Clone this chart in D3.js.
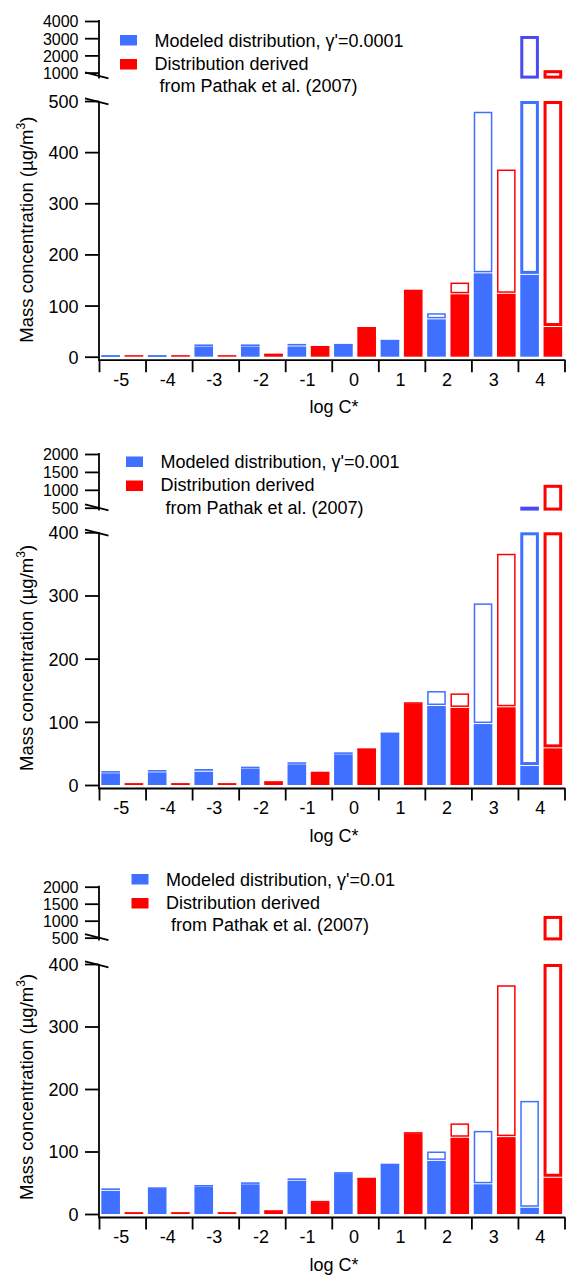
<!DOCTYPE html>
<html>
<head>
<meta charset="utf-8">
<script src="https://cdn.jsdelivr.net/npm/d3@7"></script>
<style>
  html, body { margin: 0; padding: 0; background: #fff; }
  svg { display: block; font-family: "Liberation Sans", Arial, sans-serif; }
</style>
</head>
<body>
<svg id="chart" width="567" height="1276"></svg>
<script>
// Volatility basis set: mass per log C* bin, particle (filled) and total (outline)
const logC = [-5, -4, -3, -2, -1, 0, 1, 2, 3, 4];
const xTickLabels = ["-5", "-4", "-3", "-2", "-1", "0", "1", "2", "3", "4"];

// Distribution derived from Pathak et al. (2007) – same in every panel
const pathakParticle = [3, 3, 3, 5, 19, 57, 129, 122, 123, 58];
const pathakTotal    = [3, 3, 3, 6, 21, 58, 131, 145, 366, 1140];

// Modeled distributions for three values of gamma'
const gammaLabels = ["0.0001", "0.001", "0.01"];
const modeledParticle1 = [2, 2, 20, 20, 20, 24, 32, 73, 163, 160];
const modeledTotal1    = [3, 3, 24, 24, 25, 25, 33, 85, 479, 3130];
const modeledParticle2 = [18.5, 20, 21, 26, 32.7, 48.5, 82, 125, 96.5, 30];
const modeledTotal2    = [22, 23.7, 25.3, 29, 36, 51.7, 83, 148.7, 287.5, 530];
const modeledParticle3 = [37, 41, 43.7, 47.5, 53.3, 65, 79, 85, 47.5, 10];
const modeledTotal3    = [41, 42.7, 46.4, 50.7, 57, 67, 80.5, 100, 133, 181];

// Tick values of the broken y axes
const lowerTicks1 = [0, 100, 200, 300, 400, 500];
const upperTicks1 = [1000, 2000, 3000, 4000];
const lowerTicks23 = [0, 100, 200, 300, 400];
const upperTicks23 = [500, 1000, 1500, 2000];

const legendText = ["Modeled distribution, \u03b3'=", "Distribution derived", " from Pathak et al. (2007)"];
const yTitle = "Mass concentration (\u00b5g/m";

const BLUE = "#4070FF", BLUE_UP = "#4A4AF2", RED = "#FF0000";

// Panel layout (pixel frame of each panel)
const panels = [
  { gamma: gammaLabels[0], particle: modeledParticle1, total: modeledTotal1,
    lowMax: 500, lowTicks: lowerTicks1, zeroY: 356.7, lowTopY: 101,
    upMin: 650, upMax: 4000, upTicks: upperTicks1, upTopY: 21, upBottomY: 78.6,
    legX: 120, legY: 35 },
  { gamma: gammaLabels[1], particle: modeledParticle2, total: modeledTotal2,
    lowMax: 400, lowTicks: lowerTicks23, zeroY: 785, lowTopY: 532.3,
    upMin: 420, upMax: 2000, upTicks: upperTicks23, upTopY: 454, upBottomY: 510.6,
    legX: 126, legY: 456.5 },
  { gamma: gammaLabels[2], particle: modeledParticle3, total: modeledTotal3,
    lowMax: 400, lowTicks: lowerTicks23, zeroY: 1214, lowTopY: 964,
    upMin: 420, upMax: 2000, upTicks: upperTicks23, upTopY: 886.7, upBottomY: 940.4,
    legX: 131.5, legY: 874 }
];

const svg = d3.select("#chart");
const X0 = 99, X1 = 564.5, AXW = 1.8;
const tickFont = 18, upTickFont = 16, legFont = 18, titleFont = 18.5;

panels.forEach(p => {
  const g = svg.append("g");

  const x = d3.scaleBand().domain(logC).range([X0, X1]).paddingInner(0).paddingOuter(0);
  const xs = d3.scaleBand().domain(["model", "pathak"]).range([0, x.bandwidth()])
    .paddingInner(0.2).paddingOuter(0.1);
  const xEdge = d3.scaleLinear().domain([logC[0] - 0.5, logC[logC.length - 1] + 0.5]).range([X0, X1]);
  const yLow = d3.scaleLinear().domain([0, p.lowMax]).range([p.zeroY, p.lowTopY]);
  const yUp = d3.scaleLinear().domain([p.upMin, p.upMax]).range([p.upBottomY, p.upTopY]);
  const axisY = p.zeroY + 3.5;

  const series = [
    { key: "model", particle: p.particle, total: p.total, color: BLUE, upColor: BLUE_UP },
    { key: "pathak", particle: pathakParticle, total: pathakTotal, color: RED, upColor: RED }
  ];

  // bars
  series.forEach(s => {
    const rows = logC.map((c, i) => ({ c, part: s.particle[i], tot: s.total[i] }));
    const bw = xs.bandwidth();

    // filled particle-phase part
    g.append("g").selectAll("rect").data(rows).join("rect")
      .attr("x", d => x(d.c) + xs(s.key))
      .attr("width", bw)
      .attr("y", d => yLow(Math.min(d.part, p.lowMax)))
      .attr("height", d => yLow(0) - yLow(Math.min(d.part, p.lowMax)))
      .attr("fill", s.color);

    // outlined remainder up to the total
    const hollow = rows.filter(d => d.tot - d.part > 0.5);
    g.append("g").selectAll("rect").data(hollow).join("rect")
      .each(function(d) {
        const off = d.tot > p.lowMax;
        const sw = off ? 3 : 1.5;
        const yTop = yLow(Math.min(d.tot, p.lowMax));
        const yBot = yLow(d.part) - 1;
        d3.select(this)
          .attr("x", x(d.c) + xs(s.key) + sw / 2)
          .attr("width", bw - sw)
          .attr("y", yTop + sw / 2)
          .attr("height", Math.max(0.1, yBot - yTop - sw))
          .attr("fill", "none")
          .attr("stroke", s.color)
          .attr("stroke-width", sw);
      });

    // part above the axis break
    const above = rows.filter(d => d.tot > p.lowMax);
    g.append("g").selectAll("rect").data(above).join("rect")
      .attr("x", d => x(d.c) + xs(s.key) + 1.5)
      .attr("width", bw - 3)
      .attr("y", d => yUp(d.tot) + 1.5)
      .attr("height", d => Math.max(0.1, yUp(p.upMin) - yUp(d.tot) - 3))
      .attr("fill", "none")
      .attr("stroke", s.upColor)
      .attr("stroke-width", 3);
  });

  // lower y axis
  const lowAxis = g.append("g").attr("transform", `translate(${X0},0)`)
    .call(d3.axisLeft(yLow).tickValues(p.lowTicks).tickSize(14).tickPadding(6.5).tickFormat(d3.format("d")));
  lowAxis.select(".domain").remove();
  g.append("line").attr("x1", X0).attr("x2", X0).attr("y1", p.lowTopY).attr("y2", axisY)
    .attr("stroke", "#000").attr("stroke-width", AXW);

  // upper y axis
  const upAxis = g.append("g").attr("transform", `translate(${X0},0)`)
    .call(d3.axisLeft(yUp).tickValues(p.upTicks).tickSize(14).tickPadding(6.5).tickFormat(d3.format("d")));
  upAxis.select(".domain").remove();
  g.append("line").attr("x1", X0).attr("x2", X0).attr("y1", p.upTopY - AXW / 2).attr("y2", p.upBottomY)
    .attr("stroke", "#000").attr("stroke-width", AXW);

  [lowAxis, upAxis].forEach(a => {
    a.selectAll(".tick line").attr("stroke", "#000").attr("stroke-width", AXW);
    a.selectAll(".tick text").attr("fill", "#000").attr("font-size", tickFont)
      .attr("font-family", "Liberation Sans, Arial, sans-serif").attr("dy", "0.36em");
  });
  upAxis.selectAll(".tick text").attr("font-size", upTickFont).attr("dy", "0.37em");

  // break marks
  g.append("line").attr("x1", 85).attr("y1", p.upBottomY - 6.3).attr("x2", 108.5).attr("y2", p.upBottomY - 0.3)
    .attr("stroke", "#000").attr("stroke-width", AXW);
  g.append("line").attr("x1", 85).attr("y1", p.lowTopY - 2.7).attr("x2", 108.5).attr("y2", p.lowTopY + 3.3)
    .attr("stroke", "#000").attr("stroke-width", AXW);

  // x axis: ticks at bin edges, labels at bin centres
  const edges = d3.range(logC.length + 1).map(i => logC[0] - 0.5 + i);
  const xAxis = g.append("g").attr("transform", `translate(0,${axisY})`)
    .call(d3.axisBottom(xEdge).tickValues(edges).tickSize(12).tickFormat(""));
  xAxis.select(".domain").remove();
  xAxis.selectAll(".tick line").attr("stroke", "#000").attr("stroke-width", AXW);
  g.append("line").attr("x1", X0 - AXW / 2).attr("x2", X1 + AXW / 2).attr("y1", axisY).attr("y2", axisY)
    .attr("stroke", "#000").attr("stroke-width", AXW);

  g.append("g").selectAll("text").data(logC).join("text")
    .attr("x", d => x(d) + x.bandwidth() / 2 - 1)
    .attr("y", axisY + 25.5)
    .attr("text-anchor", "middle")
    .attr("font-size", tickFont)
    .text((d, i) => xTickLabels[i]);

  g.append("text").attr("x", 334).attr("y", axisY + 53)
    .attr("text-anchor", "middle").attr("font-size", tickFont).text("log C*");

  // y axis title
  const t = g.append("text")
    .attr("transform", `translate(33,${p.zeroY - 14}) rotate(-90)`)
    .attr("font-size", titleFont);
  t.append("tspan").text(yTitle);
  t.append("tspan").attr("font-size", titleFont * 0.65).attr("dy", -8).text("3");
  t.append("tspan").attr("dy", 8).text(")");

  // legend
  const lg = g.append("g");
  lg.append("rect").attr("x", p.legX).attr("y", p.legY).attr("width", 17).attr("height", 10.5).attr("fill", BLUE);
  lg.append("rect").attr("x", p.legX).attr("y", p.legY + 24).attr("width", 17).attr("height", 10.5).attr("fill", RED);
  lg.append("text").attr("x", p.legX + 34.5).attr("y", p.legY + 11.5).attr("font-size", legFont)
    .text(legendText[0] + p.gamma);
  lg.append("text").attr("x", p.legX + 34.5).attr("y", p.legY + 34.5).attr("font-size", legFont)
    .text(legendText[1]);
  lg.append("text").attr("x", p.legX + 34.5).attr("y", p.legY + 57).attr("font-size", legFont)
    .attr("xml:space", "preserve").style("white-space", "pre")
    .text(legendText[2]);
});
</script>
</body>
</html>
